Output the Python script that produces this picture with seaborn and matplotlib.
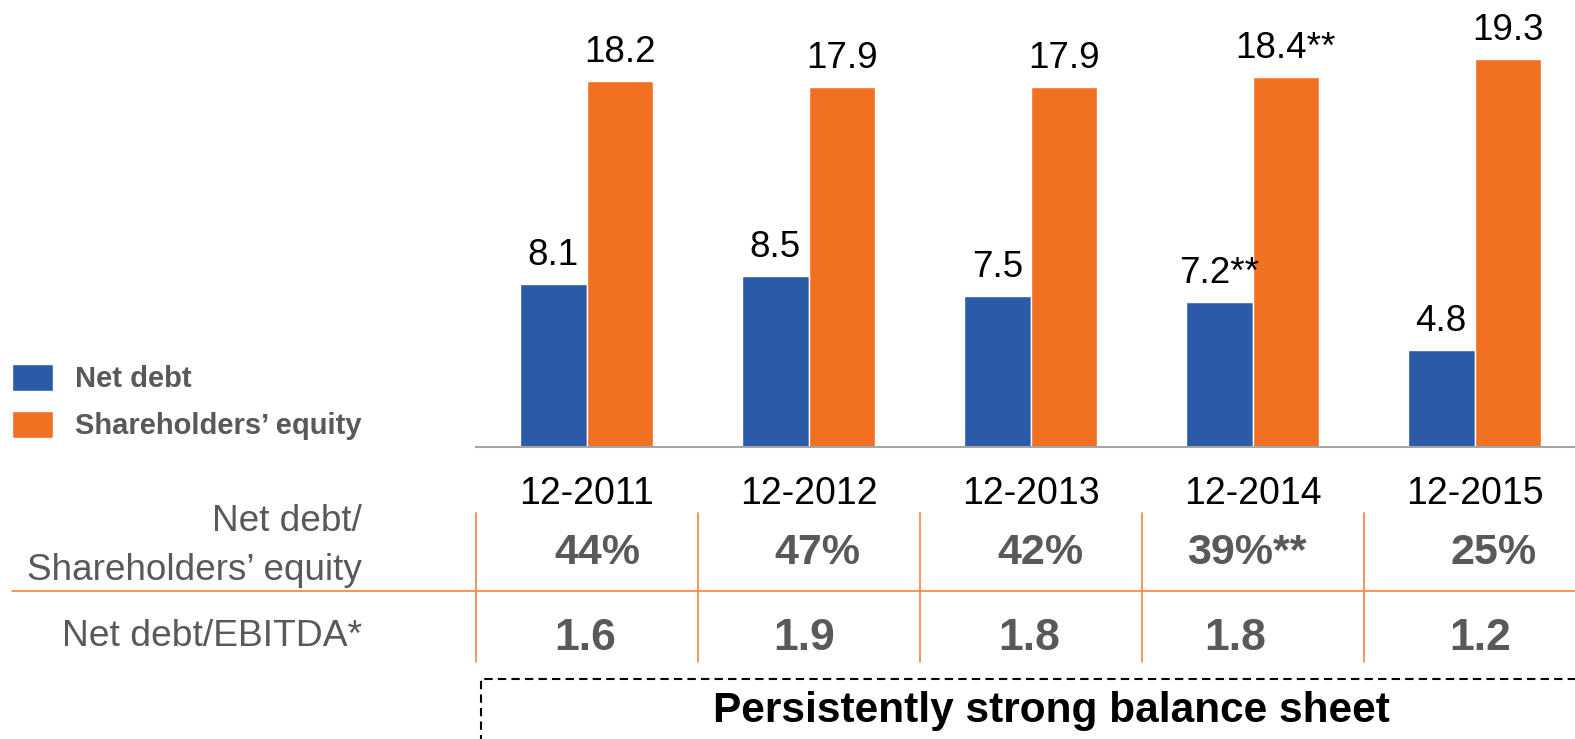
import matplotlib
matplotlib.use("Agg")
import matplotlib.pyplot as plt
import matplotlib.transforms as mtransforms
from matplotlib.patches import Rectangle
from matplotlib.lines import Line2D
import seaborn as sns
import pandas as pd

# ---------------- data ----------------
periods = ["12-2011", "12-2012", "12-2013", "12-2014", "12-2015"]
series_names = ["Net debt", "Shareholders\u2019 equity"]
net_debt = [8.1, 8.5, 7.5, 7.2, 4.8]
equity = [18.2, 17.9, 17.9, 18.4, 19.3]
value_notes = ["", "", "", "**", ""]
debt_to_equity_pct = [44, 47, 42, 39, 25]
debt_to_ebitda = [1.6, 1.9, 1.8, 1.8, 1.2]
row_labels = ["Net debt/\nShareholders\u2019 equity", "Net debt/EBITDA*"]
banner = "Persistently strong balance sheet"

# ---------------- style ----------------
sns.set_style("white")
plt.rcParams["font.family"] = ["Liberation Sans", "DejaVu Sans"]

BLUE = "#2B5BA8"
ORANGE = "#F27022"
LINE_ORANGE = "#F2843F"
GREY_TXT = "#595959"
AXIS_GREY = "#A6A6A6"

W, H = 1575, 739
fig = plt.figure(figsize=(W / 100, H / 100), dpi=100)
ax_left, ax_base = 475.5, 446.7
ax = fig.add_axes([ax_left / W, (H - ax_base) / H, (W - ax_left) / W, ax_base / H])

df = pd.DataFrame({
    "period": periods * 2,
    "series": [series_names[0]] * len(periods) + [series_names[1]] * len(periods),
    "value": net_debt + equity,
})

sns.barplot(data=df, x="period", y="value", hue="series", order=periods,
            hue_order=series_names, palette=[BLUE, ORANGE], width=0.6,
            saturation=1, ax=ax, errorbar=None)

cat_w = 222.0
ax.set_xlim(-0.5, -0.5 + (W - ax_left) / cat_w)
ax.set_ylim(0, ax_base / 20.09)

# bar labels
for cont, vals in zip(ax.containers, [net_debt, equity]):
    ax.bar_label(cont, labels=[f"{v:.1f}{n}" for v, n in zip(vals, value_notes)],
                 padding=8, fontsize=26.5, color="black")

# axes styling
for s in ["left", "top", "right"]:
    ax.spines[s].set_visible(False)
ax.spines["bottom"].set_color(AXIS_GREY)
ax.spines["bottom"].set_linewidth(1.5)
ax.set_yticks([])
ax.set_xlabel("")
ax.set_ylabel("")
ax.set_xticks(range(len(periods)))
ax.set_xticklabels(periods, fontsize=27, color="black")
ax.tick_params(axis="x", which="major", length=0, pad=21)
ax.set_xticks([i - 0.5 for i in range(len(periods))], minor=True)
ax.tick_params(axis="x", which="minor", length=8, width=1.2, color=AXIS_GREY)

# legend
sns.move_legend(ax, "upper left", bbox_to_anchor=(12 / W, (H - 364) / H),
                bbox_transform=fig.transFigure, frameon=False, title=None,
                borderpad=0, borderaxespad=0, handlelength=1.4, handleheight=1.05,
                handletextpad=0.75, labelspacing=0.6,
                prop={"size": 21, "weight": "bold"})
for t in ax.get_legend().get_texts():
    t.set_color(GREY_TXT)

# table
blend = mtransforms.blended_transform_factory(ax.transData, fig.transFigure)
for i in range(len(periods)):
    fig.add_artist(Line2D([i - 0.5, i - 0.5], [(H - 513) / H, (H - 662) / H],
                          transform=blend, color=LINE_ORANGE, lw=1.2))
fig.add_artist(Line2D([12 / W, 1.0], [(H - 591) / H, (H - 591) / H],
                      transform=fig.transFigure, color=LINE_ORANGE, lw=1.2))

pct_dx = [10.5, 9, 10, -6, 19]
ratio_dx = [-1.5, -4, -1, -17, 6]
for i, (p, n, r) in enumerate(zip(debt_to_equity_pct, value_notes, debt_to_ebitda)):
    fig.text(i + pct_dx[i] / cat_w, (H - 553) / H, f"{p}%{n}", transform=blend,
             ha="center", va="center", fontsize=31, fontweight="bold", color=GREY_TXT)
    fig.text(i + ratio_dx[i] / cat_w, (H - 638) / H, f"{r:.1f}", transform=blend,
             ha="center", va="center", fontsize=32, fontweight="bold", color=GREY_TXT)

fig.text(362 / W, (H - 546) / H, row_labels[0], ha="right", va="center",
         fontsize=26.6, color=GREY_TXT, linespacing=1.55)
fig.text(362 / W, (H - 637) / H, row_labels[1], ha="right", va="center",
         fontsize=26.8, color=GREY_TXT)

# dashed banner box
fig.add_artist(Rectangle((481 / W, -0.2), 1.0, (H - 679) / H + 0.2,
                         transform=fig.transFigure, fill=False, ec="black",
                         lw=1.5, ls=(0, (4, 2.5)), clip_on=False))
fig.text(1051 / W, (H - 711) / H, banner, ha="center", va="center",
         fontsize=30.5, fontweight="bold", color="black")

fig.savefig("out.png", dpi=100)
